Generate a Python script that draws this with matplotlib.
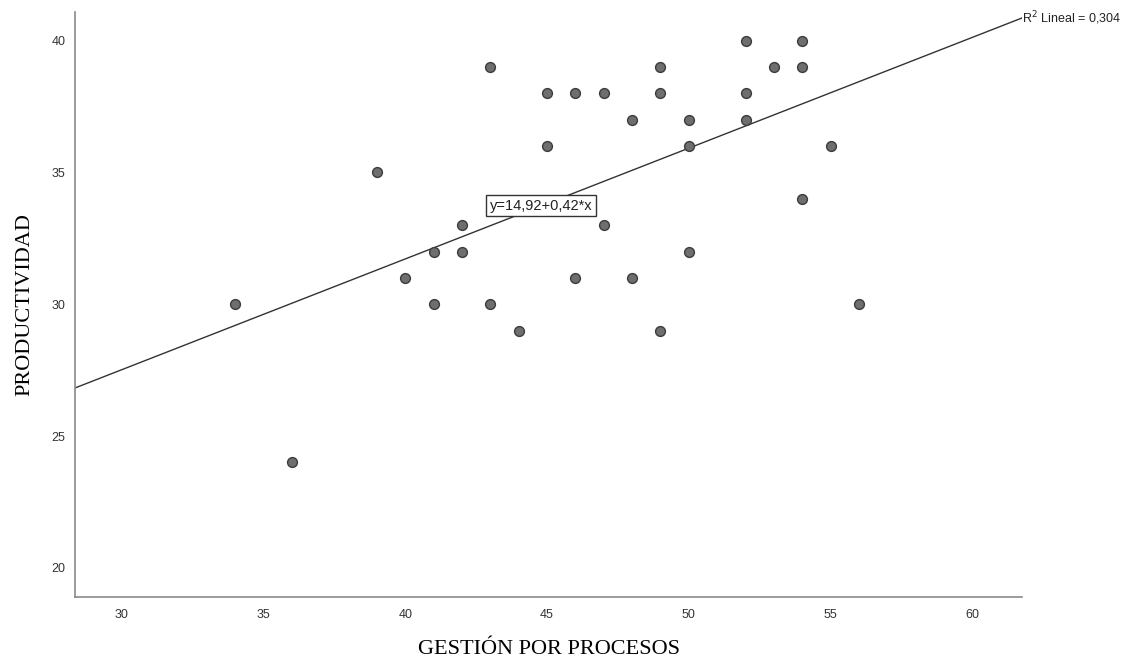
import numpy as np
import matplotlib
matplotlib.use("Agg")
import matplotlib.pyplot as plt

# GESTION POR PROCESOS (x) vs PRODUCTIVIDAD (y)
gestion = [34, 36, 39, 40, 41, 41, 42, 42, 43, 43, 44, 45, 45, 46, 46, 47, 47,
           48, 48, 49, 49, 49, 50, 50, 50, 52, 52, 52, 53, 54, 54, 54, 55, 56]
productividad = [30, 24, 35, 31, 32, 30, 33, 32, 39, 30, 29, 38, 36, 38, 31, 38, 33,
                 37, 31, 39, 38, 29, 37, 36, 32, 40, 38, 37, 39, 40, 39, 34, 36, 30]

intercept = 14.92
slope = 0.42
r2 = 0.304
x_ticks = [30, 35, 40, 45, 50, 55, 60]
y_ticks = [20, 25, 30, 35, 40]

fig = plt.figure(figsize=(11.38, 6.6), dpi=100)
ax = fig.add_axes([0.066, 0.0955, 0.832, 0.887])

xmin, xmax = 28.35, 61.75
ax.set_xlim(xmin, xmax)
ax.set_ylim(18.9, 41.1)

xs = np.array([xmin, xmax])
ax.plot(xs, intercept + slope * xs, color='#333333', linewidth=1.0, zorder=2)

ax.scatter(gestion, productividad, s=50, facecolor='#6e6e6e', edgecolor='#3c3c3c',
           linewidth=1.0, zorder=3)

# equation label sitting on the line
xl = 44.8
ax.text(xl, intercept + slope * xl, 'y=14,92+0,42*x', fontsize=10.5,
        family='Liberation Sans', color='#222222', ha='center', va='center',
        bbox=dict(boxstyle='square,pad=0.25', facecolor='white', edgecolor='#333333',
                  linewidth=1.0), zorder=4)

ax.text(xmax, intercept + slope * xmax, 'R$^2$ Lineal = %s' % str(r2).replace('.', ','),
        fontsize=9, family='Liberation Sans', color='#222222', ha='left', va='center',
        clip_on=False)

ax.set_xticks(x_ticks)
ax.set_yticks(y_ticks)
ax.tick_params(length=0, labelsize=9, colors='#333333')
ax.tick_params(axis='x', pad=9)
ax.tick_params(axis='y', pad=7)
for lab in ax.get_xticklabels() + ax.get_yticklabels():
    lab.set_family('Liberation Sans')

for side in ['top', 'right']:
    ax.spines[side].set_visible(False)
for side in ['left', 'bottom']:
    ax.spines[side].set_color('#8a8a8a')
    ax.spines[side].set_linewidth(1.2)

ax.set_xlabel('GESTIÓN POR PROCESOS', family='Liberation Serif', fontsize=16, labelpad=13)
ax.set_ylabel('PRODUCTIVIDAD', family='Liberation Serif', fontsize=16, labelpad=12)

plt.savefig('out.png', dpi=100)
